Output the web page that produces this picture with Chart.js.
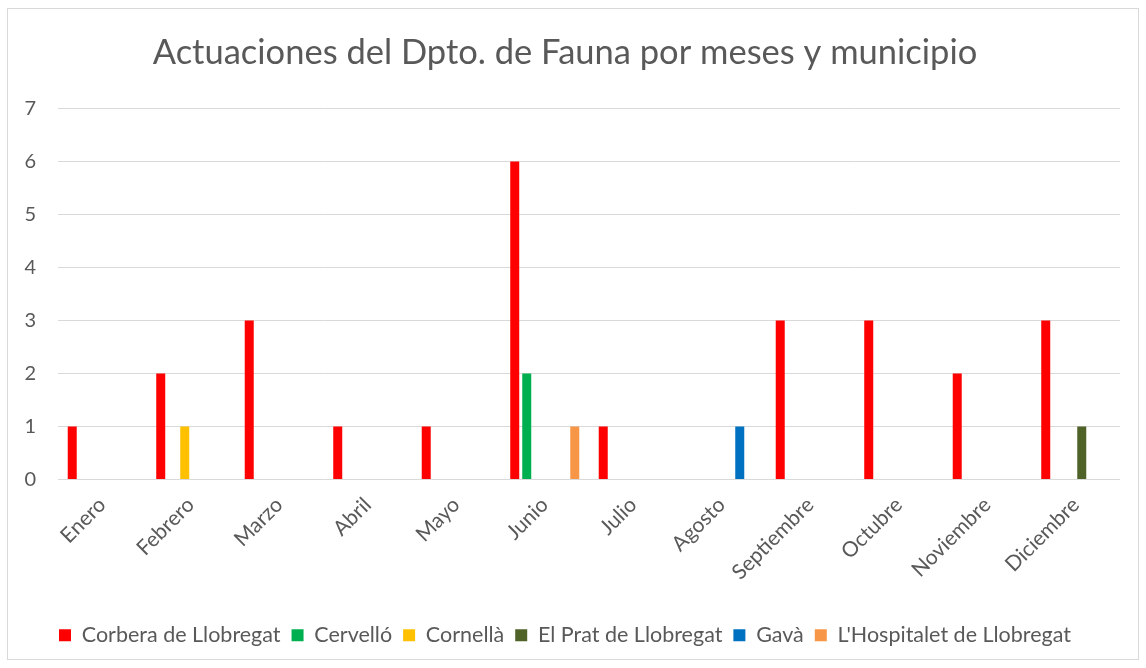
<!DOCTYPE html>
<html>
<head>
<meta charset="utf-8">
<script src="https://cdn.jsdelivr.net/npm/chart.js@4/dist/chart.umd.min.js"></script>
<style>
html,body{margin:0;padding:0;background:#fff;}
#wrap{position:relative;width:1146px;height:668px;}
</style>
</head>
<body>
<div id="wrap"><canvas id="c" width="1146" height="668"></canvas></div>
<script>
const months = ["Enero","Febrero","Marzo","Abril","Mayo","Junio","Julio","Agosto","Septiembre","Octubre","Noviembre","Diciembre"];
const corbera    = [1,2,3,1,1,6,1,0,3,3,2,3];
const cervello   = [0,0,0,0,0,2,0,0,0,0,0,0];
const cornella   = [0,1,0,0,0,0,0,0,0,0,0,0];
const elPrat     = [0,0,0,0,0,0,0,0,0,0,0,1];
const gava       = [0,0,0,0,0,0,0,1,0,0,0,0];
const hospitalet = [0,0,0,0,0,1,0,0,0,0,0,0];
const seriesNames = ["Corbera de Llobregat","Cervelló","Cornellà","El Prat de Llobregat","Gavà","L'Hospitalet de Llobregat"];
const seriesColors = ["#FF0000","#00B050","#FFC000","#4F6228","#0070C0","#F79646"];
const yTicks = [0,1,2,3,4,5,6,7];

const FONT = "Lato, 'Open Sans', sans-serif";
const TXT = "#595959";

const borderPlugin = {
  id:'border',
  beforeDraw(chart){
    const ctx = chart.ctx;
    ctx.save();
    ctx.fillStyle = '#fff';
    ctx.fillRect(0,0,chart.width,chart.height);
    ctx.strokeStyle = '#d9d9d9';
    ctx.lineWidth = 1;
    ctx.strokeRect(7.5,8.5,1131,651);
    ctx.restore();
  }
};

const data = [corbera, cervello, cornella, elPrat, gava, hospitalet];
new Chart(document.getElementById('c'), {
  type: 'bar',
  data: {
    labels: months,
    datasets: data.map((d,i)=>({
      label: seriesNames[i],
      data: d,
      backgroundColor: seriesColors[i],
      borderWidth: 0,
      categoryPercentage: 0.814,
      barPercentage: 0.75
    }))
  },
  options: {
    responsive:false,
    animation:false,
    devicePixelRatio:1,
    layout:{padding:{left:10,right:26,top:24,bottom:12}},
    plugins:{
      title:{display:true,text:"Actuaciones del Dpto. de Fauna por meses y municipio",color:TXT,
        font:{family:FONT,size:34.5,weight:'normal'},padding:{top:8,bottom:35}},
      legend:{position:'bottom',labels:{color:TXT,font:{family:FONT,size:21.5},boxWidth:12,boxHeight:12,padding:11}},
      tooltip:{enabled:false}
    },
    scales:{
      x:{
        grid:{display:false,drawTicks:false},
        border:{display:false},
        ticks:{color:TXT,font:{family:FONT,size:21},maxRotation:45,minRotation:45,padding:13,autoSkip:false},
        afterFit(s){ s.height = 134; }
      },
      y:{
        min:0,max:7,
        afterBuildTicks(s){ s.ticks = yTicks.map(v=>({value:v})); },
        grid:{color:'#d9d9d9',lineWidth:1,drawTicks:false},
        border:{display:false},
        ticks:{color:TXT,font:{family:FONT,size:20},padding:22},
        afterFit(s){ s.width = 48; }
      }
    }
  },
  plugins:[borderPlugin]
});
</script>
</body>
</html>
